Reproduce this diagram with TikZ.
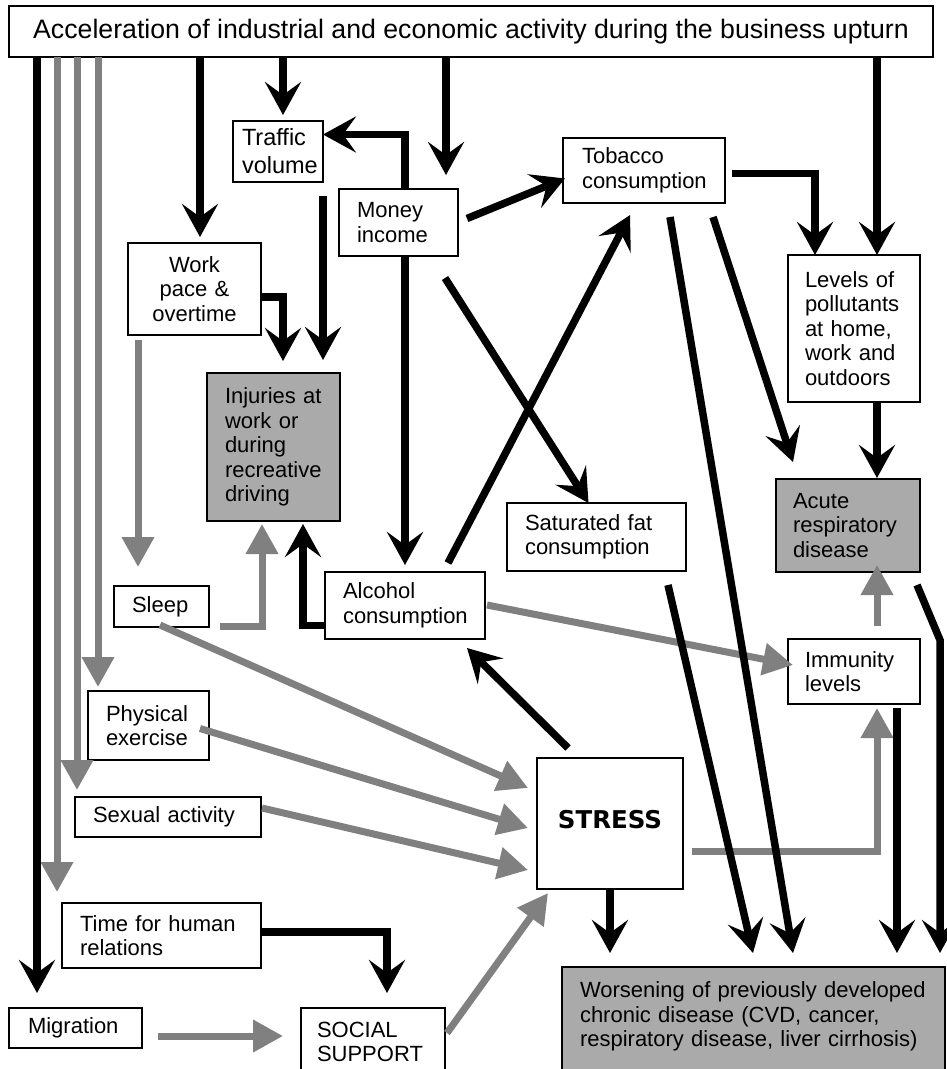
\documentclass[tikz,border=0pt]{standalone}
\usepackage{fontspec}
\setmainfont{Liberation Sans}
\newfontfamily\stressfont{DejaVu Sans}
\usetikzlibrary{arrows.meta,calc}
\hyphenpenalty=10000
\exhyphenpenalty=10000
\definecolor{lgray}{RGB}{128,128,128}
\definecolor{boxgray}{RGB}{170,170,170}
\newcommand{\bxfont}{\fontsize{22}{24.5}\selectfont}
\begin{document}
\begin{tikzpicture}[x=1pt,y=-1pt,
  bx/.style={draw=black, line width=2.5pt, fill=white, anchor=north west, outer sep=0pt, inner ysep=0pt, font=\bxfont, align=left},
  gbx/.style={bx, fill=boxgray},
  blk/.style={draw=black, line width=7.5pt, -{Stealth[length=33pt,width=36pt,inset=13pt]}},
  gry/.style={draw=lgray, line width=7pt, -{Triangle[length=30pt,width=31pt]}}]
\fill[white] (0,0) rectangle (947,1069);
\useasboundingbox (0,0) rectangle (947,1069);
% columns
\foreach \c in {37,57,77,98,138,200,262,283,303,387,405,446,610,815,877,897,940}
  {\coordinate (x\c) at (\c,0);}
% boxes
\node[bx, minimum width=924pt, minimum height=51pt, align=center, font=\fontsize{26.7}{30}\selectfont] (top) at (9,6)
  {Acceleration of industrial and economic activity during the business upturn};
\node[bx, minimum width=90pt, minimum height=61pt, inner xsep=9pt, text width=72pt, font=\fontsize{23.5}{28}\selectfont] (traffic) at (233,121) {Traffic\\volume};
\node[bx, minimum width=119pt, minimum height=67pt, inner xsep=18pt, text width=83pt] (money) at (339,189) {Money\\income};
\node[bx, minimum width=162pt, minimum height=65pt, inner xsep=19pt, text width=124pt] (tobacco) at (563,138) {Tobacco\\consumption};
\node[bx, minimum width=133pt, minimum height=92pt, inner xsep=10pt, text width=113pt, align=center] (work) at (128,243) {Work\\pace \&\\overtime};
\node[bx, minimum width=132pt, minimum height=147pt, inner xsep=17pt, text width=98pt] (levels) at (788,255) {Levels of\\pollutants\\at home,\\work and\\outdoors};
\node[gbx, minimum width=133pt, minimum height=148pt, inner xsep=18pt, text width=97pt] (injuries) at (207,373) {Injuries at\\work or\\during\\recreative\\driving};
\node[bx, minimum width=179pt, minimum height=68pt, inner xsep=18pt, text width=143pt] (satfat) at (507,503) {Saturated fat\\consumption};
\node[gbx, minimum width=144pt, minimum height=93pt, inner xsep=17pt, text width=110pt] (acute) at (776,479) {Acute\\respiratory\\disease};
\node[bx, minimum width=95pt, minimum height=41pt, inner xsep=18pt, text width=59pt] (sleep) at (114,586) {Sleep};
\node[bx, minimum width=160pt, minimum height=67pt, inner xsep=18pt, text width=124pt] (alcohol) at (325,572) {Alcohol\\consumption};
\node[bx, minimum width=132pt, minimum height=65pt, inner xsep=17pt, text width=98pt] (immunity) at (788,639) {Immunity\\levels};
\node[bx, minimum width=121pt, minimum height=69pt, inner xsep=18pt, text width=85pt] (physical) at (88,691) {Physical\\exercise};
\node[bx, minimum width=146pt, minimum height=131pt, align=center, font=\stressfont\bfseries\fontsize{24.5}{28}\selectfont] (stress) at (537,758) {\raisebox{8pt}{STRESS}};
\node[bx, minimum width=186pt, minimum height=40pt, inner xsep=18pt, text width=150pt] (sexual) at (75,797) {Sexual activity};
\node[bx, minimum width=199pt, minimum height=65pt, inner xsep=18pt, text width=163pt] (time) at (62,903) {Time for human\\relations};
\node[bx, minimum width=133pt, minimum height=40pt, inner xsep=19pt, text width=95pt] (migration) at (9,1008) {Migration};
\node[bx, inner xsep=16pt, inner ysep=14pt, text width=112pt, text depth=80pt] (social) at (301,1008) {SOCIAL\\SUPPORT};
\node[gbx, inner xsep=18pt, inner ysep=15pt, text width=347pt, text depth=120pt] (worsening) at (562,967)
  {Worsening of previously developed\\chronic disease (CVD, cancer,\\respiratory disease, liver cirrhosis)};
% gray connectors
\draw[gry,shorten >=4pt] (top.south -| x98) -- (physical.north -| x98);
\draw[gry,shorten >=7pt] (top.south -| x77) -- (sexual.north -| x77);
\draw[gry,shorten >=11pt] (top.south -| x57) -- (time.north -| x57);
\draw[gry,shorten <=5pt,shorten >=19pt] (work.south -| x138) -- (sleep.north -| x138);
\draw[gry,shorten >=3pt] ($(sleep.south east)+(11,-1)$) -| (injuries.south -| x262);
\draw[gry] ($(sleep.south)+(-1.5,-2)$) -- ($(stress.west)+(-9,-35.5)$);
\draw[gry] ($(physical.east)+(-9,3)$) -- ($(stress.west)+(-9,4.5)$);
\draw[gry] ($(sexual.east)+(1,-9)$) -- ($(stress.west)+(-9,46.5)$);
\draw[gry] ($(social.north east)+(2,25)$) -- ($(stress.south west)+(11,4)$);
\draw[gry,shorten <=16pt,shorten >=18pt] ([yshift=-8pt]migration.east) -- ([yshift=-8pt]migration.east -| social.west);
\draw[gry] ($(alcohol.east)+(2,-0.5)$) -- ($(immunity.west)+(5,-6.5)$);
\draw[gry] ($(immunity.north -| x877)+(0,-13)$) -- ($(acute.south -| x877)+(0,-7)$);
\draw[gry] ($(stress.east)+(9,27.5)$) -| ($(immunity.south -| x877)+(0,4)$);
% black connectors
\draw[blk,shorten >=15pt] (top.south -| x37) -- (migration.north -| x37);
\draw[blk,shorten >=6pt] (top.south -| x200) -- (work.north -| x200);
\draw[blk,shorten >=6pt] (top.south -| x283) -- (traffic.north -| x283);
\draw[blk,shorten >=14pt] (top.south -| x446) -- (money.north -| x446);
\draw[blk] (top.south -| x877) -- (levels.north -| x877);
\draw[blk] (money.north -| x405) |- ([yshift=17pt]traffic.east);
\draw[blk,shorten <=14pt,shorten >=13pt] (traffic.south east) -- (injuries.north -| traffic.south east);
\draw[blk,shorten >=12pt] ([yshift=-8pt]work.east) -| (injuries.north -| x283);
\draw[blk,shorten >=7pt] (money.south -| x405) -- (alcohol.north -| x405);
\draw[blk] ($(money.east)+(9,-4)$) -- ($(tobacco.west)+(2,8)$);
\draw[blk] ($(money.south east)+(-13,22)$) -- ($(satfat.north)+(-8,0)$);
\draw[blk] ($(alcohol.north)+(43,-9)$) -- ($(tobacco.south)+(-14,12)$);
\draw[blk,shorten >=3pt] ([yshift=-20pt]alcohol.west) -| (injuries.south -| x303);
\draw[blk] ($(tobacco.east)+(7,3)$) -| (levels.north -| x815);
\draw[blk] ($(tobacco.south)+(69,14)$) -- ($(acute.north west)+(17,-17)$);
\draw[blk] ($(tobacco.south)+(26,14)$) -- ($(worsening.north west)+(231,-14)$);
\draw[blk] ($(satfat.south)+(71.5,14)$) -- ($(worsening.north west)+(191,-14)$);
\draw[blk,shorten >=1pt] (levels.south -| x877) -- (acute.north -| x877);
\draw[blk,shorten >=14pt] ($(acute.south east)+(-3,13)$) -- ($(acute.south east -| x940)+(0,68)$) -- (worsening.north -| x940);
\draw[blk,shorten <=4pt,shorten >=14pt] (immunity.south -| x897) -- (worsening.north -| x897);
\draw[blk,shorten >=14pt] (stress.south -| x610) -- (worsening.north -| x610);
\draw[blk] ($(stress.north west)+(31,-10)$) -- ($(alcohol.south east)+(-18,9)$);
\draw[blk,shorten >=15pt] ([yshift=3.5pt]time.east) -| (social.north -| x387);
\end{tikzpicture}
\end{document}
